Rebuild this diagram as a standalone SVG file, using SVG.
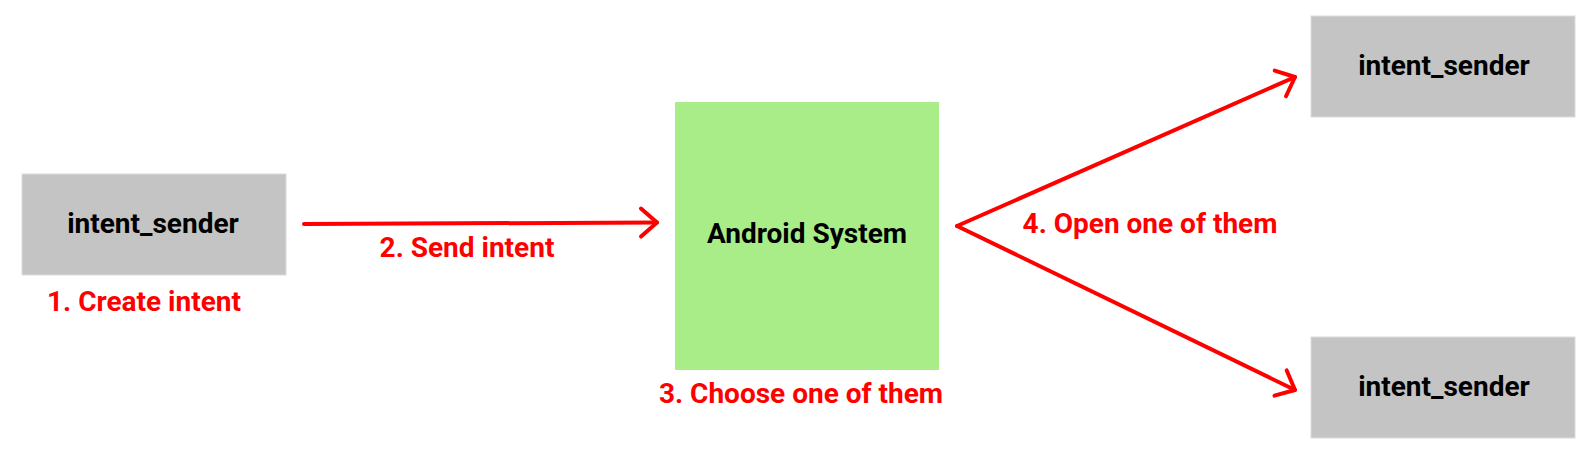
<svg xmlns="http://www.w3.org/2000/svg" width="1594" height="456" viewBox="0 0 1594 456">
<style>
.box{fill:#c4c4c4;stroke:#dcdcdc;stroke-width:1}
.sys{fill:#a8ed87}
.t{font-family:Roboto,"Liberation Sans",sans-serif;font-weight:bold;font-size:28px;text-anchor:middle;fill:#000}
.lbl{font-family:Roboto,"Liberation Sans",sans-serif;font-weight:bold;font-size:28px;text-anchor:middle;fill:#ff0000}
.conn{fill:none;stroke:#ff0000;stroke-width:4;stroke-linecap:round;stroke-linejoin:round}
</style>
<defs>
<marker id="arr" markerUnits="userSpaceOnUse" markerWidth="40" markerHeight="40" viewBox="-20 -20 40 40" refX="0" refY="0" orient="auto">
<path d="M-16,-14 L0,0 L-16,14" fill="none" stroke="#ff0000" stroke-width="4" stroke-linecap="round" stroke-linejoin="round"/>
</marker>
</defs>
<rect width="1594" height="456" fill="#ffffff"/>
<g id="sender">
<rect class="box" x="22" y="174" width="264" height="101"/>
<text class="t" x="153" y="233">intent_sender</text>
</g>
<g id="system">
<rect class="sys" x="675" y="102" width="264" height="268"/>
<text class="t" x="807" y="243">Android System</text>
</g>
<g id="receiver1">
<rect class="box" x="1311" y="16" width="264" height="101"/>
<text class="t" x="1444" y="75">intent_sender</text>
</g>
<g id="receiver2">
<rect class="box" x="1311" y="337" width="264" height="101"/>
<text class="t" x="1444" y="396">intent_sender</text>
</g>
<g id="connectors">
<path class="conn" d="M304,224 L657,222.5" marker-end="url(#arr)"/>
<path class="conn" d="M957,226 L1295,77" marker-end="url(#arr)"/>
<path class="conn" d="M957,226 L1295,390" marker-end="url(#arr)"/>
</g>
<g id="labels">
<text class="lbl" x="144" y="311">1. Create intent</text>
<text class="lbl" x="467" y="257">2. Send intent</text>
<text class="lbl" x="801" y="403">3. Choose one of them</text>
<text class="lbl" x="1150" y="233">4. Open one of them</text>
</g>
</svg>
